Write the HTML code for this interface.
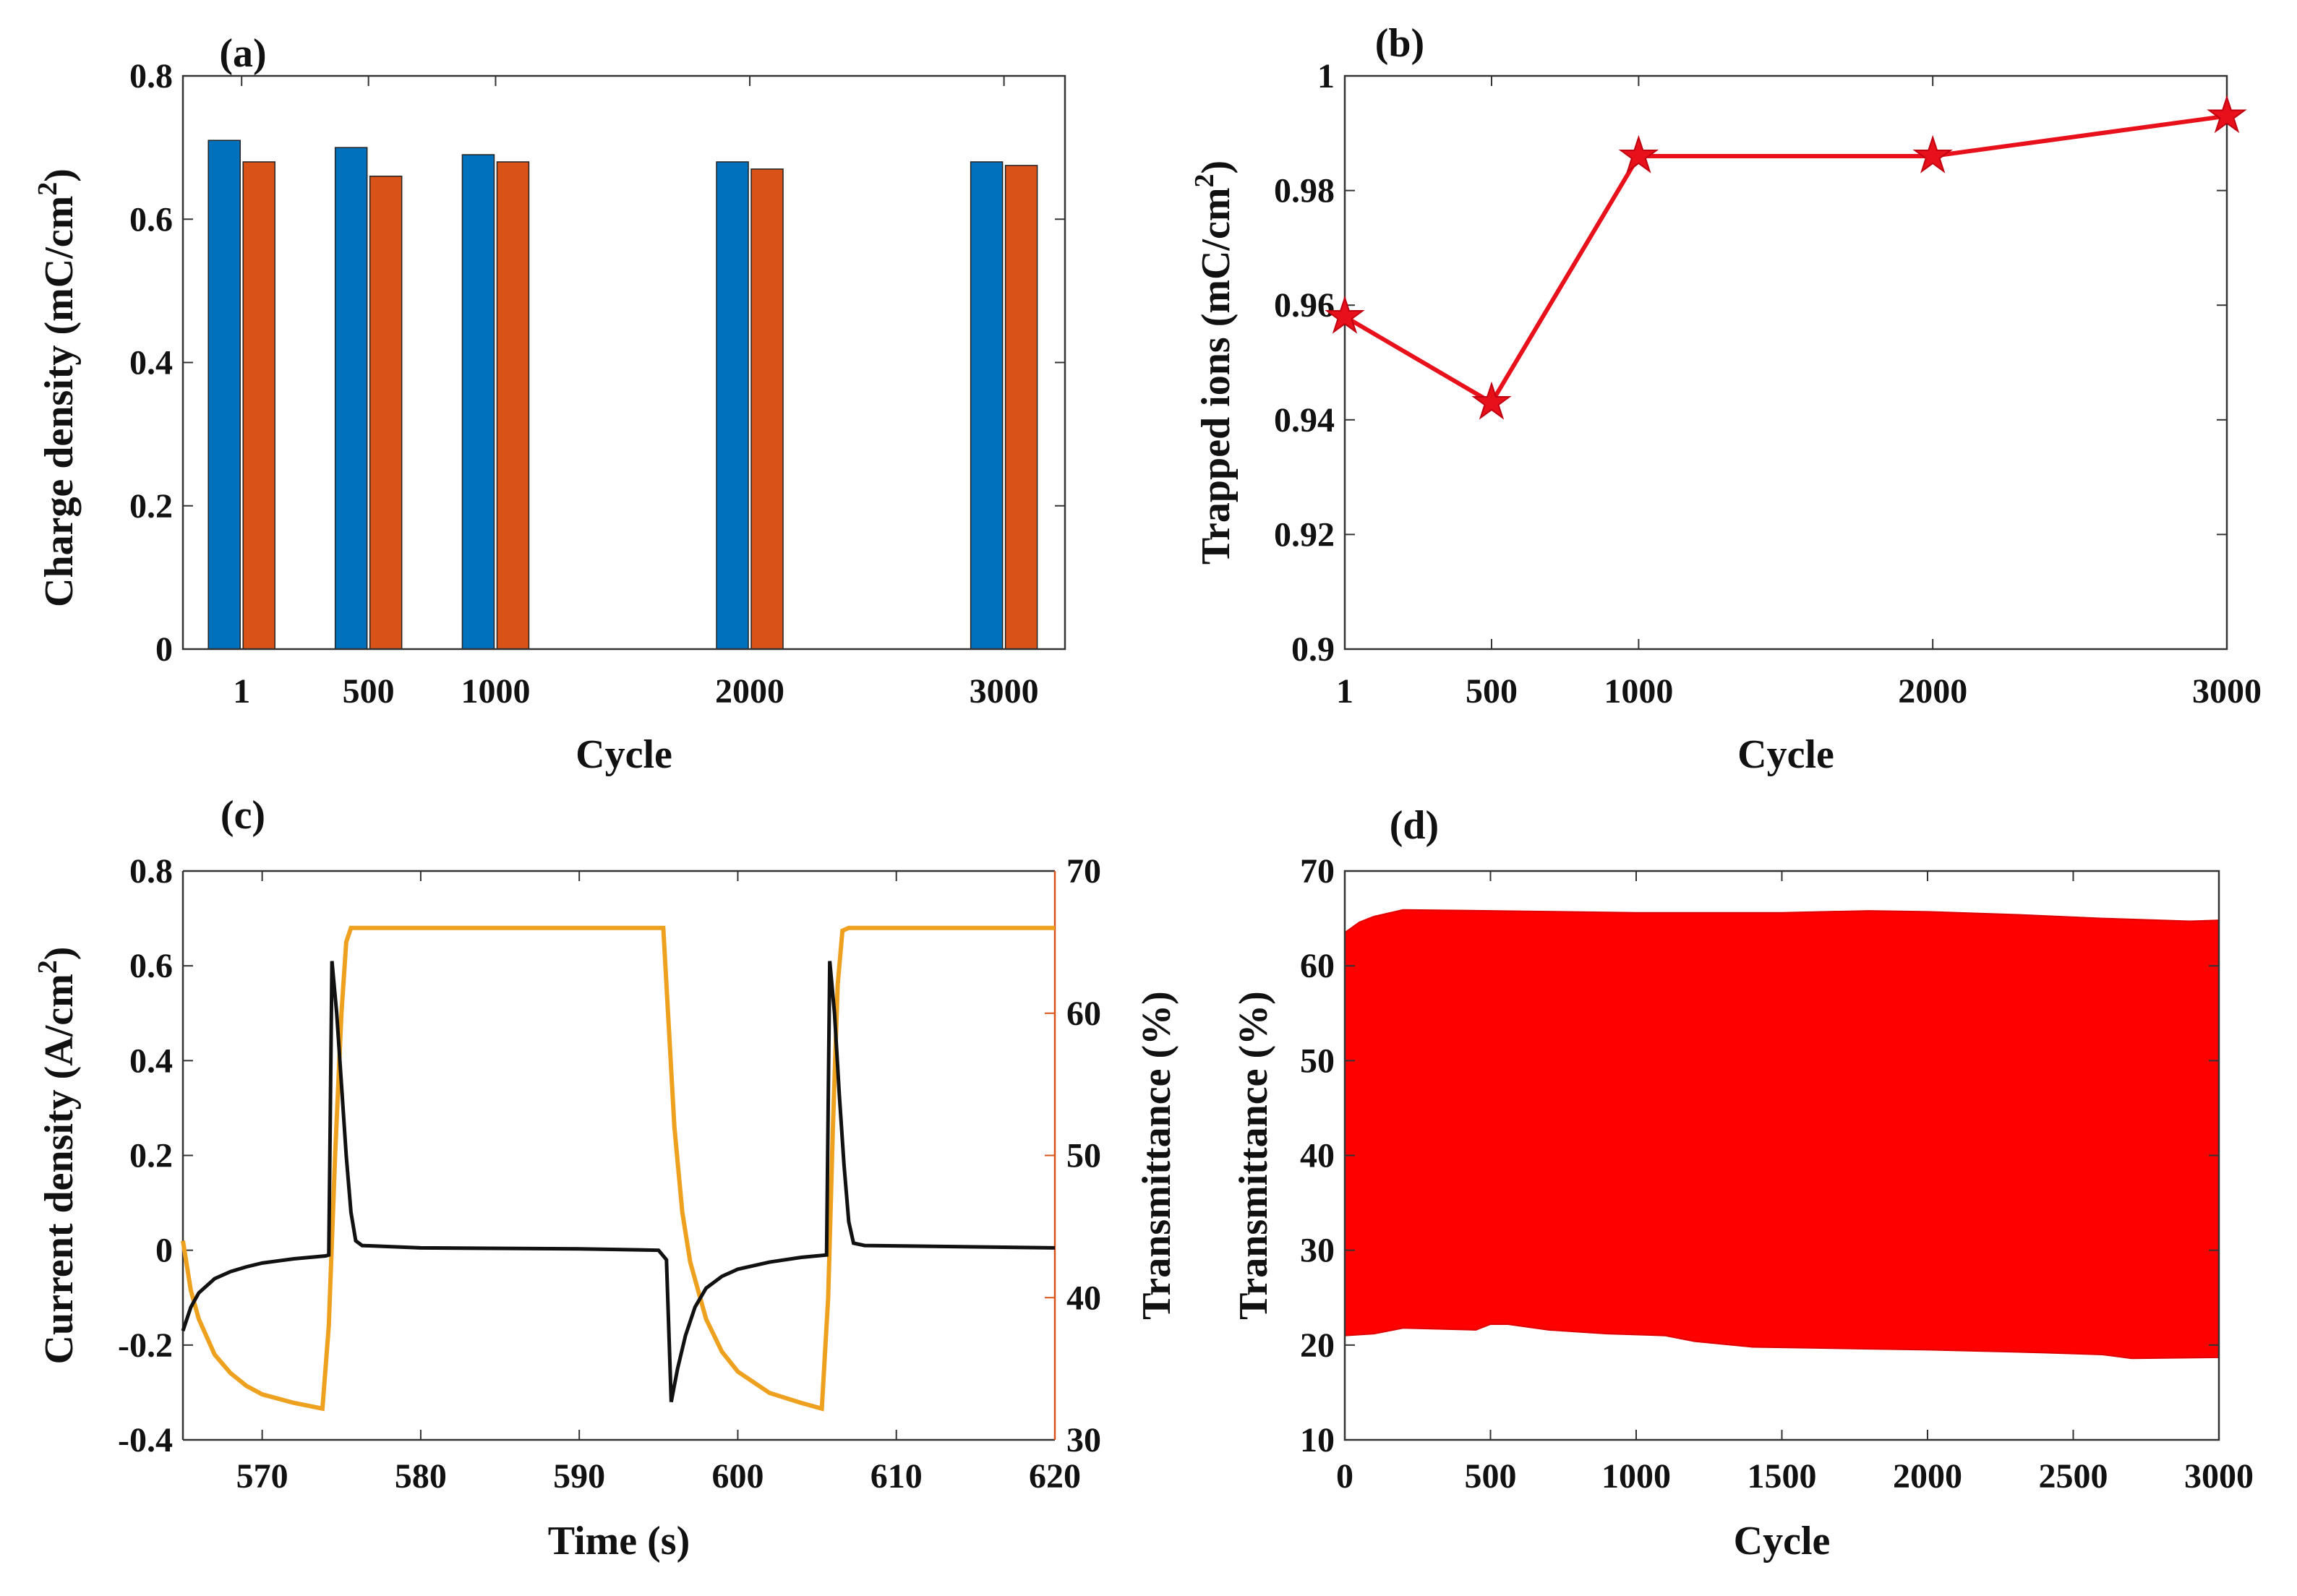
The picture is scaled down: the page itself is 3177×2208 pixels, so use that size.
<!DOCTYPE html>
<html><head><meta charset="utf-8"><style>
body{margin:0;background:#fff}
svg text{font-family:"Liberation Serif",serif;font-weight:bold;fill:#111}
</style></head><body>
<svg id="fig" width="3177" height="2203" viewBox="0 0 3177 2203" xmlns="http://www.w3.org/2000/svg"></svg>
<script>
// ---- Panel (a) data
const aCycles=[1,500,1000,2000,3000];
const aBlue=[0.71,0.70,0.69,0.68,0.68];
const aOrange=[0.68,0.66,0.68,0.67,0.675];
const aYTicks=[0,0.2,0.4,0.6,0.8];
// ---- Panel (b) data
const bCycles=[1,500,1000,2000,3000];
const bTrapped=[0.958,0.943,0.986,0.986,0.993];
const bYTicks=[0.9,0.92,0.94,0.96,0.98,1];
const bYLabels=["0.9","0.92","0.94","0.96","0.98","1"];
// ---- Panel (c) data
const cTimeI=[565,565.5,566,567,568,569,570,572,574,574.2,574.4,574.7,575,575.3,575.6,575.9,576.3,580,590,595,595.5,595.8,596.2,596.7,597.3,598,599,600,602,604,605.6,605.8,606.1,606.4,606.7,607,607.3,608,620];
const cCurrent=[-0.17,-0.12,-0.09,-0.06,-0.045,-0.035,-0.027,-0.018,-0.012,-0.01,0.61,0.5,0.35,0.2,0.08,0.02,0.01,0.005,0.003,0,-0.02,-0.32,-0.25,-0.18,-0.12,-0.08,-0.055,-0.04,-0.025,-0.015,-0.01,0.61,0.5,0.33,0.18,0.06,0.015,0.01,0.005];
const cTimeT=[565,565.5,566,567,568,569,570,572,573.8,574.2,574.6,575,575.3,575.6,580,590,595.3,595.6,596,596.5,597,598,599,600,602,604,605.3,605.7,606,606.3,606.6,607,620];
const cTrans=[44,40.5,38.5,36,34.7,33.8,33.2,32.6,32.2,38,50,60,65,66,66,66,66,60,52,46,42.5,38.5,36.2,34.8,33.3,32.6,32.2,40,52,62,65.8,66,66];
const cXTicks=[570,580,590,600,610,620];
const cYTicks=[-0.4,-0.2,0,0.2,0.4,0.6,0.8];
const cYLabels=["-0.4","-0.2","0","0.2","0.4","0.6","0.8"];
const cY2Ticks=[30,40,50,60,70];
// ---- Panel (d) data
const dUpX=[0,50,100,200,500,1000,1500,1800,2000,2300,2600,2900,3000];
const dUp=[63.5,64.6,65.2,65.9,65.8,65.6,65.6,65.8,65.7,65.4,65,64.7,64.8];
const dLoX=[0,100,200,450,500,560,700,900,1100,1200,1400,1600,1800,2000,2400,2600,2700,3000];
const dLo=[21,21.2,21.8,21.6,22.2,22.2,21.6,21.2,21,20.4,19.8,19.7,19.6,19.5,19.2,19,18.6,18.7];
const dXTicks=[0,500,1000,1500,2000,2500,3000];
const dYTicks=[10,20,30,40,50,60,70];

const svg=document.getElementById('fig');
const NS='http://www.w3.org/2000/svg';
function el(tag,attrs,parent){const e=document.createElementNS(NS,tag);for(const k in attrs)e.setAttribute(k,attrs[k]);(parent||svg).appendChild(e);return e;}
function txt(s,x,y,size,anchor,parent,fill){const t=el('text',{x:x,y:y,'font-size':size,'text-anchor':anchor||'middle'},parent);if(fill)t.setAttribute('fill',fill);t.textContent=s;return t;}
function lin(d0,d1,r0,r1){return v=>r0+(v-d0)/(d1-d0)*(r1-r0);}
const TS=48, LS=56, TL=14;

function frame(g,L,R,T,B){
  const r=el('rect',{x:L,y:T,width:R-L,height:B-T,fill:'none',stroke:'#333','stroke-width':2.5},g);
  
}
function ylabel(g,s,x,cy,sup,fill){
  const t=el('text',{x:0,y:0,'font-size':LS,'text-anchor':'middle',transform:`translate(${x},${cy}) rotate(-90)`},g);
  if(fill)t.setAttribute('fill',fill);
  t.appendChild(document.createTextNode(s));
  if(sup){const ts=el('tspan',{'font-size':38,dy:-22},t);ts.textContent='2';const t2=el('tspan',{dy:22},t);t2.textContent=')';}
  return t;
}

// ===== Panel A
(function(){
  const g=el('g',{});
  const L=253,R=1473,T=105,B=898;
  const x=lin(-230,3240,L,R), y=lin(0,0.8,B,T);
  aCycles.forEach((c,i)=>{
    const b=el('rect',{x:x(c)-46,y:y(aBlue[i]),width:44,height:B-y(aBlue[i]),fill:'#0072BD',stroke:'#222','stroke-width':1.5},g);
    
    const o=el('rect',{x:x(c)+2,y:y(aOrange[i]),width:44,height:B-y(aOrange[i]),fill:'#D95319',stroke:'#222','stroke-width':1.5},g);
    
    el('line',{x1:x(c),x2:x(c),y1:T,y2:T+TL,stroke:'#333','stroke-width':2},g);
    const lb=txt(String(c),x(c),B+74,TS,'middle',g);
  });
  aYTicks.forEach(v=>{
    el('line',{x1:L,x2:L+TL,y1:y(v),y2:y(v),stroke:'#333','stroke-width':2},g);
    el('line',{x1:R,x2:R-TL,y1:y(v),y2:y(v),stroke:'#333','stroke-width':2},g);
    const lb=txt(String(v),L-14,y(v)+16,TS,'end',g);
  });
  frame(g,L,R,T,B);
  const xt=txt('Cycle',(L+R)/2,1062,LS,'middle',g);
  const yt=ylabel(g,'Charge density (mC/cm',100,(T+B)/2+35,true);
  const pl=txt('(a)',336,92,LS,'middle',g);
})();

// ===== Panel B
(function(){
  const g=el('g',{});
  const L=1860,R=3080,T=105,B=898;
  const x=lin(1,3000,L,R), y=lin(0.9,1,B,T);
  bCycles.forEach(c=>{
    el('line',{x1:x(c),x2:x(c),y1:B,y2:B-TL,stroke:'#333','stroke-width':2},g);
    el('line',{x1:x(c),x2:x(c),y1:T,y2:T+TL,stroke:'#333','stroke-width':2},g);
    const lb=txt(String(c),x(c),B+74,TS,'middle',g);
  });
  bYTicks.forEach((v,i)=>{
    el('line',{x1:L,x2:L+TL,y1:y(v),y2:y(v),stroke:'#333','stroke-width':2},g);
    el('line',{x1:R,x2:R-TL,y1:y(v),y2:y(v),stroke:'#333','stroke-width':2},g);
    const lb=txt(bYLabels[i],L-14,y(v)+16,TS,'end',g);
  });
  frame(g,L,R,T,B);
  const pts=bCycles.map((c,i)=>x(c)+','+y(bTrapped[i])).join(' ');
  const pl=el('polyline',{points:pts,fill:'none',stroke:'#E8101A','stroke-width':6},g);
  
  bCycles.forEach((c,i)=>{
    const cx=x(c),cy=y(bTrapped[i]);let p=[];
    for(let k=0;k<10;k++){const r=k%2?10:26;const a=-Math.PI/2+k*Math.PI/5;p.push((cx+r*Math.cos(a)).toFixed(1)+','+(cy+r*Math.sin(a)).toFixed(1));}
    const s=el('polygon',{points:p.join(' '),fill:'#E8101A',stroke:'#C00010','stroke-width':2},g);
    
  });
  const xt=txt('Cycle',(L+R)/2,1062,LS,'middle',g);
  const yt=ylabel(g,'Trapped ions (mC/cm',1700,(T+B)/2,true);
  const lb=txt('(b)',1936,78,LS,'middle',g);
})();

// ===== Panel C
(function(){
  const g=el('g',{});
  const L=253,R=1459,T=1205,B=1992;
  const x=lin(565,620,L,R), y=lin(-0.4,0.8,B,T), y2=lin(30,70,B,T);
  cXTicks.forEach(v=>{
    el('line',{x1:x(v),x2:x(v),y1:B,y2:B-TL,stroke:'#333','stroke-width':2},g);
    el('line',{x1:x(v),x2:x(v),y1:T,y2:T+TL,stroke:'#333','stroke-width':2},g);
    const lb=txt(String(v),x(v),B+66,TS,'middle',g);
  });
  cYTicks.forEach((v,i)=>{
    el('line',{x1:L,x2:L+TL,y1:y(v),y2:y(v),stroke:'#333','stroke-width':2},g);
    const lb=txt(cYLabels[i],L-14,y(v)+16,TS,'end',g);
  });
  cY2Ticks.forEach(v=>{
    el('line',{x1:R,x2:R-TL,y1:y2(v),y2:y2(v),stroke:'#D95319','stroke-width':2},g);
    const lb=txt(String(v),R+16,y2(v)+16,TS,'start',g,'#D95319');
  });
  el('line',{x1:L,x2:R,y1:T,y2:T,stroke:'#333','stroke-width':2.5},g);
  el('line',{x1:L,x2:R,y1:B,y2:B,stroke:'#333','stroke-width':2.5},g);
  el('line',{x1:L,x2:L,y1:T,y2:B,stroke:'#333','stroke-width':2.5},g);
  el('line',{x1:R,x2:R,y1:T,y2:B,stroke:'#D95319','stroke-width':2.5},g);
  const tl=el('polyline',{points:cTimeT.map((t,i)=>x(t)+','+y2(cTrans[i])).join(' '),fill:'none',stroke:'#EDA11F','stroke-width':6},g);
  
  const cl=el('polyline',{points:cTimeI.map((t,i)=>x(t)+','+y(cCurrent[i])).join(' '),fill:'none',stroke:'#111','stroke-width':5},g);
  
  const xt=txt('Time (s)',(L+R)/2,2150,LS,'middle',g);
  const yt=ylabel(g,'Current density (A/cm',100,(T+B)/2,true);
  const y2t=ylabel(g,'Transmittance (%)',1618,(T+B)/2,false,'#D95319');
  const lb=txt('(c)',336,1146,LS,'middle',g);
})();

// ===== Panel D
(function(){
  const g=el('g',{});
  const L=1860,R=3069,T=1205,B=1992;
  const x=lin(0,3000,L,R), y=lin(10,70,B,T);
  let pts=dUpX.map((c,i)=>x(c)+','+y(dUp[i]));
  for(let i=dLoX.length-1;i>=0;i--)pts.push(x(dLoX[i])+','+y(dLo[i]));
  const f=el('polygon',{points:pts.join(' '),fill:'#FF0000',stroke:'#E00000','stroke-width':2},g);
  
  dXTicks.forEach(v=>{
    el('line',{x1:x(v),x2:x(v),y1:B,y2:B-TL,stroke:'#333','stroke-width':2},g);
    el('line',{x1:x(v),x2:x(v),y1:T,y2:T+TL,stroke:'#333','stroke-width':2},g);
    const lb=txt(String(v),x(v),B+66,TS,'middle',g);
  });
  dYTicks.forEach(v=>{
    el('line',{x1:L,x2:L+TL,y1:y(v),y2:y(v),stroke:'#333','stroke-width':2},g);
    el('line',{x1:R,x2:R-TL,y1:y(v),y2:y(v),stroke:'#333','stroke-width':2},g);
    const lb=txt(String(v),L-14,y(v)+16,TS,'end',g);
  });
  frame(g,L,R,T,B);
  const xt=txt('Cycle',(L+R)/2,2150,LS,'middle',g);
  const yt=ylabel(g,'Transmittance (%)',1752,(T+B)/2,false);
  const lb=txt('(d)',1956,1160,LS,'middle',g);
})();
</script>
</body></html>
